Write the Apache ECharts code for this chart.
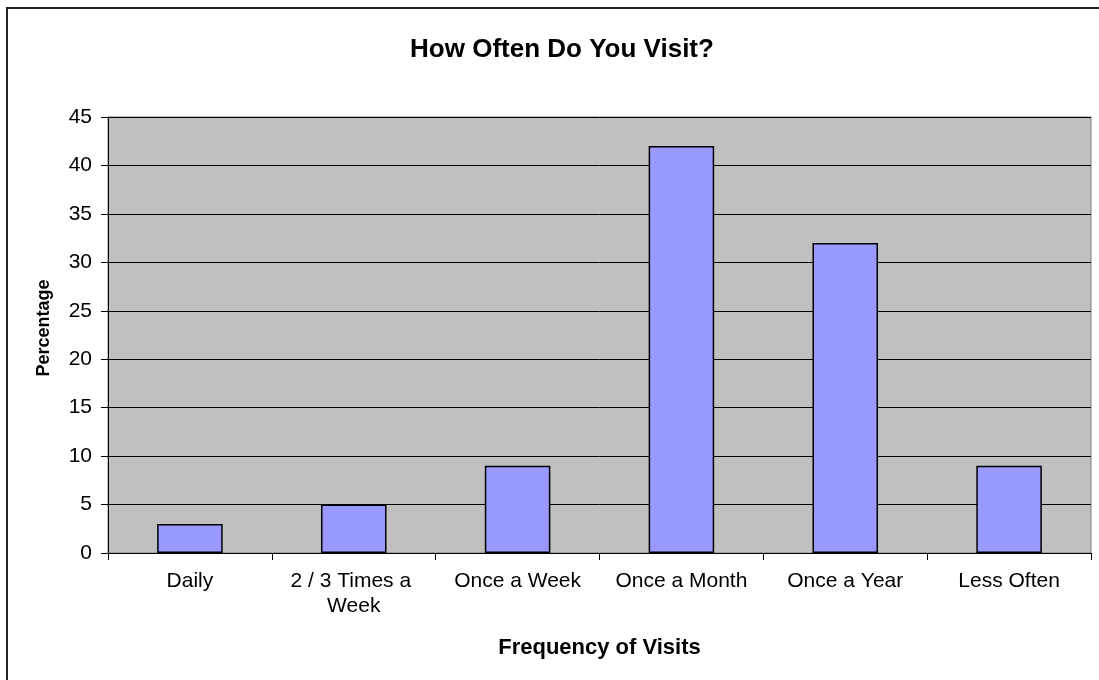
<!DOCTYPE html>
<html>
<head>
<meta charset="utf-8">
<script src="https://cdn.jsdelivr.net/npm/echarts@6/dist/echarts.min.js"></script>
<style>
html,body{margin:0;padding:0;background:#fff;}
#chart{width:1099px;height:680px;}
</style>
</head>
<body>
<div id="chart"></div>
<script>
var categories = ['Daily', '2 / 3 Times a Week', 'Once a Week', 'Once a Month', 'Once a Year', 'Less Often'];
var percentages = [3, 5, 9, 42, 32, 9];
var yTicks = [0, 5, 10, 15, 20, 25, 30, 35, 40, 45];
var titleText = 'How Often Do You Visit?';
var xName = 'Frequency of Visits';
var yName = 'Percentage';

var FONT = '"Liberation Sans", Arial, sans-serif';
var chart = echarts.init(document.getElementById('chart'), null, {renderer: 'canvas'});
chart.setOption({
  animation: false,
  backgroundColor: '#fff',
  textStyle: {fontFamily: FONT, color: '#000'},
  title: {
    text: titleText,
    left: 557,
    top: 32,
    textAlign: 'center',
    textStyle: {fontFamily: FONT, fontSize: 26, fontWeight: 'bold', color: '#000'}
  },
  graphic: [{
    type: 'rect',
    shape: {x: 7, y: 8, width: 2000, height: 2000},
    style: {fill: 'none', stroke: '#222', lineWidth: 2},
    silent: true
  }],
  grid: {
    left: 108, right: 8, top: 117, bottom: 127,
    show: true,
    backgroundColor: '#C0C0C0',
    borderColor: '#808080',
    borderWidth: 1
  },
  xAxis: {
    type: 'category',
    data: categories,
    name: xName,
    nameLocation: 'middle',
    nameGap: 84,
    nameTextStyle: {fontFamily: FONT, fontSize: 22, fontWeight: 'bold', color: '#000'},
    axisLine: {show: true, lineStyle: {color: '#000', width: 1}},
    axisTick: {show: true, length: 7, lineStyle: {color: '#000'}},
    axisLabel: {
      fontFamily: FONT, fontSize: 21, color: '#000', margin: 16,
      lineHeight: 25, width: 160, overflow: 'break', interval: 0
    },
    splitLine: {show: false}
  },
  yAxis: {
    type: 'value',
    min: yTicks[0],
    max: yTicks[yTicks.length - 1],
    interval: yTicks[1] - yTicks[0],
    name: yName,
    nameLocation: 'middle',
    nameGap: 55,
    nameRotate: 90,
    nameTextStyle: {fontFamily: FONT, fontSize: 18, fontWeight: 'bold', color: '#000', padding: [0, 0, 0, 14]},
    axisLine: {show: true, lineStyle: {color: '#000', width: 1}},
    axisTick: {show: true, length: 7, lineStyle: {color: '#000'}},
    axisLabel: {fontFamily: FONT, fontSize: 21, color: '#000', margin: 16},
    splitLine: {show: true, lineStyle: {color: '#000', width: 1}}
  },
  series: [{
    type: 'bar',
    data: percentages,
    barWidth: '40%',
    itemStyle: {color: '#9999FF', borderColor: '#000', borderWidth: 1.5}
  }]
});
</script>
</body>
</html>
